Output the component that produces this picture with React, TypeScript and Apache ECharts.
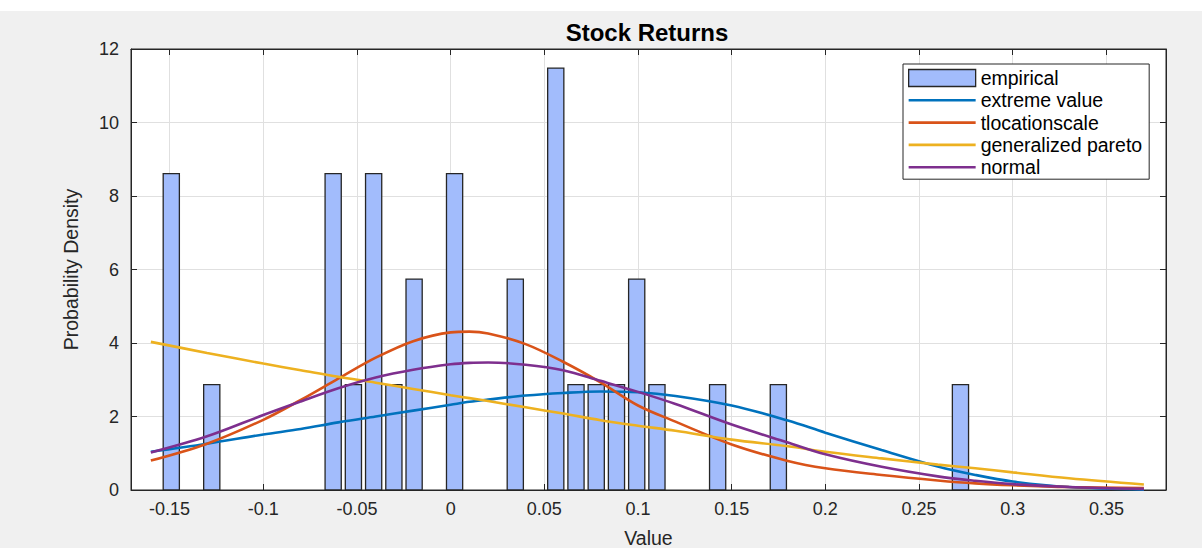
import { useEffect, useRef } from "react";
import * as echarts from "echarts";

// Histogram of returns (bin centres and probability densities)
const binCenters = [
  -0.1491, -0.1275, -0.0627, -0.0519, -0.0411, -0.0303, -0.0195, 0.0021, 0.0345,
  0.0561, 0.0669, 0.0777, 0.0885, 0.0993, 0.1101, 0.1425, 0.1749, 0.2721,
];
const densities = [
  8.61, 2.87, 8.61, 2.87, 8.61, 2.87, 5.74, 8.61, 5.74,
  11.48, 2.87, 2.87, 2.87, 5.74, 2.87, 2.87, 2.87, 2.87,
];
const BIN_WIDTH = 0.0108;
const BAR_RATIO = 0.8;

// Fitted density curves, sampled along the value axis
const curveX = [
  -0.16, -0.13, -0.1, -0.08, -0.06, -0.04, -0.02, 0, 0.01, 0.02, 0.04, 0.06,
  0.08, 0.1, 0.12, 0.15, 0.18, 0.2, 0.23, 0.26, 0.28, 0.3, 0.33, 0.37,
];
const extremeValue = [
  1.04, 1.26, 1.51, 1.66, 1.84, 2.0, 2.16, 2.32, 2.4, 2.46, 2.57, 2.64,
  2.68, 2.66, 2.56, 2.3, 1.89, 1.56, 1.09, 0.64, 0.41, 0.23, 0.08, 0.01,
];
const tLocationScale = [
  0.8, 1.26, 1.91, 2.45, 3.03, 3.6, 4.05, 4.29, 4.31, 4.26, 3.97, 3.49,
  2.93, 2.3, 1.86, 1.24, 0.79, 0.59, 0.41, 0.26, 0.18, 0.13, 0.08, 0.05,
];
const generalizedPareto = [
  4.03, 3.73, 3.44, 3.26, 3.08, 2.92, 2.75, 2.58, 2.5, 2.42, 2.25, 2.08,
  1.9, 1.75, 1.61, 1.37, 1.19, 1.04, 0.86, 0.69, 0.59, 0.48, 0.32, 0.15,
];
const normal = [
  1.02, 1.46, 2.04, 2.41, 2.77, 3.06, 3.27, 3.42, 3.46, 3.47, 3.41, 3.26,
  2.97, 2.67, 2.34, 1.78, 1.29, 0.97, 0.63, 0.37, 0.25, 0.16, 0.08, 0.03,
];

const X_MIN = -0.1706;
const X_MAX = 0.3818;

const FONT = "'Liberation Sans', Arial, sans-serif";
const INK = "#262626";
const BAR_COLOR = "#a2bcfc";

// Legend swatch for the fitted curves: a thin horizontal stroke inside a 67x17 box
const LINE_ICON = "path://M0,0 M0,7.2 L67,7.2 L67,9.8 L0,9.8 Z M67,17";

const zip = (ys: number[]) => curveX.map((x, i) => [x, ys[i]]);

export default function App() {
  const ref = useRef<HTMLDivElement>(null);

  useEffect(() => {
    document.body.style.margin = "0";
    if (!ref.current) return;
    const chart = echarts.init(ref.current, null, { renderer: "svg" });

    const lineSeries = (name: string, ys: number[], color: string) => ({
      name,
      type: "line",
      data: zip(ys),
      smooth: 0.35,
      symbol: "none",
      showSymbol: false,
      lineStyle: { color, width: 2.6 },
      itemStyle: { color },
      z: 3,
    });

    const mainAxisLine = { show: true, onZero: false, lineStyle: { color: INK, width: 1 } };
    const innerTick = { show: true, inside: true, length: 6, lineStyle: { color: INK } };

    chart.setOption({
      animation: false,
      backgroundColor: "#f0f0f0",
      title: {
        text: "Stock Returns",
        left: 642,
        top: 15,
        textAlign: "center",
        textStyle: { fontFamily: FONT, fontSize: 24, fontWeight: "bold", color: "#000" },
      },
      graphic: [
        {
          type: "rect",
          left: 0,
          top: 0,
          shape: { width: 1202, height: 11 },
          style: { fill: "#ffffff" },
          z: -10,
        },
      ],
      legend: {
        orient: "vertical",
        left: 903,
        top: 64,
        backgroundColor: "#ffffff",
        borderColor: INK,
        borderWidth: 1,
        borderRadius: 0,
        padding: [4, 7, 2, 5],
        itemWidth: 67,
        itemHeight: 17,
        itemGap: 2.3,
        textStyle: { fontFamily: FONT, fontSize: 19.5, color: "#000", lineHeight: 20 },
        data: [
          {
            name: "empirical",
            icon: "rect",
            itemStyle: { color: BAR_COLOR, borderColor: INK, borderWidth: 1.3 },
          },
          { name: "extreme value", icon: LINE_ICON, itemStyle: { color: "#0072bd", borderWidth: 0 } },
          { name: "tlocationscale", icon: LINE_ICON, itemStyle: { color: "#d95319", borderWidth: 0 } },
          { name: "generalized pareto", icon: LINE_ICON, itemStyle: { color: "#edb120", borderWidth: 0 } },
          { name: "normal", icon: LINE_ICON, itemStyle: { color: "#7e2f8e", borderWidth: 0 } },
        ],
      },
      grid: {
        left: 131,
        top: 49,
        right: 36,
        bottom: 58,
        outerBoundsMode: "none",
        containLabel: false,
        show: true,
        backgroundColor: "#ffffff",
        borderColor: INK,
        borderWidth: 1,
      },
      xAxis: [
        {
          type: "value",
          min: X_MIN,
          max: X_MAX,
          splitNumber: 11,
          minInterval: 0.05,
          maxInterval: 0.05,
          name: "Value",
          nameLocation: "middle",
          nameGap: 38,
          nameTextStyle: { fontFamily: FONT, fontSize: 19.5, color: INK },
          axisLine: mainAxisLine,
          axisTick: innerTick,
          axisLabel: {
            fontFamily: FONT,
            fontSize: 18,
            color: INK,
            margin: 10,
            showMinLabel: false,
            showMaxLabel: false,
          },
          splitLine: { show: true, lineStyle: { color: "#e0e0e0", width: 1 } },
        },
        {
          type: "value",
          position: "top",
          min: X_MIN,
          max: X_MAX,
          splitNumber: 11,
          minInterval: 0.05,
          maxInterval: 0.05,
          axisLine: mainAxisLine,
          axisTick: innerTick,
          axisLabel: { show: false },
          splitLine: { show: false },
        },
      ],
      yAxis: [
        {
          type: "value",
          min: 0,
          max: 12,
          interval: 2,
          name: "Probability Density",
          nameLocation: "middle",
          nameGap: 50,
          nameTextStyle: { fontFamily: FONT, fontSize: 19.5, color: INK },
          axisLine: mainAxisLine,
          axisTick: innerTick,
          axisLabel: { fontFamily: FONT, fontSize: 18, color: INK, margin: 12 },
          splitLine: { show: true, lineStyle: { color: "#e0e0e0", width: 1 } },
        },
        {
          type: "value",
          position: "right",
          min: 0,
          max: 12,
          interval: 2,
          axisLine: mainAxisLine,
          axisTick: innerTick,
          axisLabel: { show: false },
          splitLine: { show: false },
        },
      ],
      series: [
        {
          name: "empirical",
          type: "custom",
          xAxisIndex: 0,
          yAxisIndex: 0,
          data: binCenters.map((c, i) => [c, densities[i]]),
          itemStyle: { color: BAR_COLOR, borderColor: INK, borderWidth: 1.3 },
          renderItem: (_params: any, api: any) => {
            const c = api.value(0);
            const h = api.value(1);
            const half = (BIN_WIDTH * BAR_RATIO) / 2;
            const p0 = api.coord([c - half, h]);
            const p1 = api.coord([c + half, 0]);
            return {
              type: "rect",
              shape: { x: p0[0], y: p0[1], width: p1[0] - p0[0], height: p1[1] - p0[1] },
              style: { fill: BAR_COLOR, stroke: INK, lineWidth: 1.3 },
            };
          },
          z: 2,
        },
        lineSeries("extreme value", extremeValue, "#0072bd"),
        lineSeries("tlocationscale", tLocationScale, "#d95319"),
        lineSeries("generalized pareto", generalizedPareto, "#edb120"),
        lineSeries("normal", normal, "#7e2f8e"),
      ],
    });

    return () => chart.dispose();
  }, []);

  return <div ref={ref} style={{ width: 1202, height: 548 }} />;
}
